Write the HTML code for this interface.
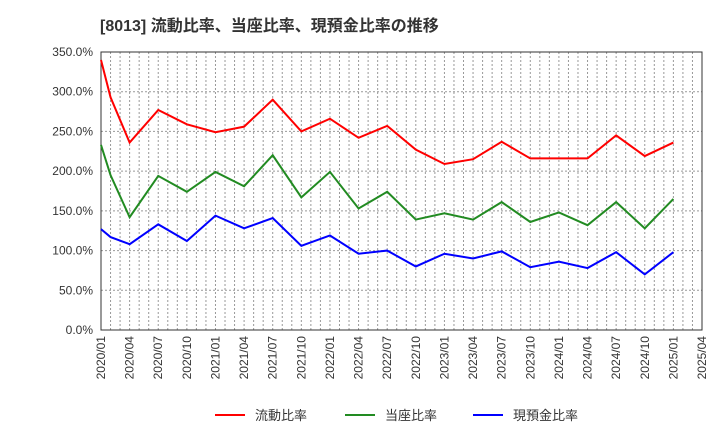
<!DOCTYPE html>
<html><head><meta charset="utf-8"><style>
body{margin:0;background:#fff;font-family:"Liberation Sans","Noto Sans CJK JP",sans-serif;}
</style></head><body>
<svg id="c" width="720" height="440" xmlns="http://www.w3.org/2000/svg"></svg>
<script>
const months=[0,1,3,6,9,12,15,18,21,24,27,30,33,36,39,42,45,48,51,54,57,60];
const ratioCurrent=[340,293,236,277,259,249,256,290,250,266,242,257,227,209,215,237,216,216,216,245,219,236];
const ratioQuick=[233,195,142,194,174,199,181,220,167,199,153,174,139,147,139,161,136,148,132,161,128,165];
const ratioCash=[127,117,108,133,112,144,128,141,106,119,96,100,80,96,90,99,79,86,78,98,70,98];
const yTicks=[0,50,100,150,200,250,300,350];
const xTickLabels=["2020/01","2020/04","2020/07","2020/10","2021/01","2021/04","2021/07","2021/10","2022/01","2022/04","2022/07","2022/10","2023/01","2023/04","2023/07","2023/10","2024/01","2024/04","2024/07","2024/10","2025/01","2025/04"];
const L=101,R=702,T=52,B=330;
const X=m=>L+m*(R-L)/63;
const Y=v=>B-v*(B-T)/350;
const svg=document.getElementById('c');
const NS='http://www.w3.org/2000/svg';
function el(t,a,p){const e=document.createElementNS(NS,t);for(const k in a)e.setAttribute(k,a[k]);(p||svg).appendChild(e);return e;}
const title=el('text',{x:100,y:31,'font-size':16,'font-weight':'bold',fill:'#333'});


title.textContent='[8013]  流動比率、当座比率、現預金比率の推移';
for(let m=1;m<63;m++){const g=el('line',{x1:X(m),x2:X(m),y1:T,y2:B,stroke:'#999','stroke-dasharray':'2,2','stroke-width':1});

}
yTicks.forEach(v=>{if(v>0){const g=el('line',{x1:L,x2:R,y1:Y(v),y2:Y(v),stroke:'#999','stroke-dasharray':'2,2'});

}
const t=el('text',{x:L-8,y:Y(v)+4,'text-anchor':'end','font-size':12,fill:'#333'});


t.textContent=v.toFixed(1)+'%';});
const fr=el('rect',{x:L,y:T,width:R-L,height:B-T,fill:'none',stroke:'#333'});


xTickLabels.forEach((s,i)=>{const x=X(i*3);const t=el('text',{transform:`translate(${x+4},${B+6}) rotate(-90)`,'text-anchor':'end','font-size':12,fill:'#333'});


t.textContent=s;});
const series=[[ratioCurrent,'#ff0000','current-ratio-line','流動比率'],[ratioQuick,'#228b22','quick-ratio-line','当座比率'],[ratioCash,'#0000ff','cash-ratio-line','現預金比率']];
series.forEach(([d,c,n])=>{const p=el('polyline',{points:d.map((v,i)=>X(months[i])+','+Y(v)).join(' '),fill:'none',stroke:c,'stroke-width':2});

});
const lx=[215,345,473];
series.forEach(([d,c,n,lab],i)=>{const g=el('g',{});


el('line',{x1:lx[i],x2:lx[i]+30,y1:415,y2:415,stroke:c,'stroke-width':2},g);
const t=el('text',{x:lx[i]+40,y:420,'font-size':13,fill:'#333'},g);t.textContent=lab;});
</script>
</body></html>
